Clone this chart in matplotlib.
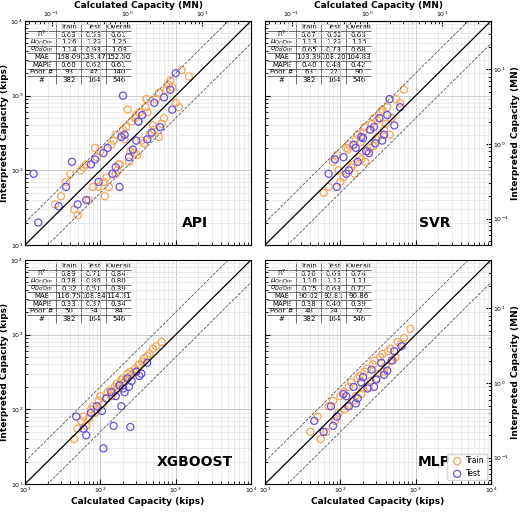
import matplotlib
matplotlib.use("Agg")
import matplotlib.pyplot as plt
import numpy as np

names = ["API", "SVR", "XGBOOST", "MLP"]
row_labels = ["R$^2$", r"$\mu_{Qc/Qm}$", r"$\sigma_{Qc/Qm}$", "MAE", "MAPE", "Poor #", "#"]
col_labels = ["Train", "Test", "Overall"]
tables = {
    "API": [["0.63", "0.53", "0.61"], ["1.26", "1.22", "1.25"], ["1.14", "0.93", "1.08"],
            ["158.09", "139.47", "152.50"], ["0.60", "0.62", "0.61"], ["93", "47", "140"], ["382", "164", "546"]],
    "SVR": [["0.67", "0.52", "0.63"], ["1.13", "1.22", "1.15"], ["0.65", "0.73", "0.68"],
            ["103.39", "108.20", "104.83"], ["0.40", "0.48", "0.42"], ["63", "27", "90"], ["382", "164", "546"]],
    "XGBOOST": [["0.89", "0.71", "0.84"], ["0.78", "0.86", "0.80"], ["0.32", "0.51", "0.39"],
                ["116.75", "108.84", "114.31"], ["0.33", "0.37", "0.34"], ["50", "34", "84"], ["382", "164", "546"]],
    "MLP": [["0.76", "0.69", "0.74"], ["1.10", "1.12", "1.11"], ["0.75", "0.63", "0.72"],
            ["90.02", "92.81", "90.86"], ["0.38", "0.40", "0.39"], ["48", "24", "72"], ["382", "164", "546"]],
}

train_x = {
    "API": [30,45,60,80,100,120,150,180,200,250,300,350,400,500,600,700,800,1000,1200,1500,40,70,90,110,140,170,220,280,330,450,550,650,900,1100,25,55,130,260,380,750,65,95,160,240,320,420,520,160,210,290,35,50,85,115,175,230,310,410,600,850],
    "SVR": [60,80,100,120,140,160,180,200,230,260,300,340,380,420,480,550,620,700,90,110,130,150,170,190,210,250,280,320,360,400,70,95,125,155,185,215,245,275,310,450],
    "XGBOOST": [45,55,65,75,85,95,110,125,140,155,170,190,210,230,260,290,330,380,450,550,650,50,60,70,80,90,100,120,135,150,165,180,200,220,250,280,320,360,420,500],
    "MLP": [40,55,70,85,100,115,130,150,170,190,210,240,270,300,340,380,430,500,580,700,850,50,65,80,95,110,125,140,160,180,200,225,255,285,320,360,400,460,540,640],
}
train_y = {
    "API": [45,30,110,60,180,80,250,120,350,180,550,250,700,400,1100,500,1400,800,2200,1800,90,40,150,70,220,100,380,170,600,300,900,420,1300,700,35,100,60,450,230,1200,120,60,300,130,450,600,350,90,260,500,70,25,200,45,120,650,160,900,280,1600],
    "SVR": [50,130,70,200,110,260,150,320,180,420,260,600,350,700,500,900,800,1200,160,80,220,120,300,140,380,200,500,280,650,420,60,100,190,90,240,130,350,210,470,300],
    "XGBOOST": [40,70,60,100,90,130,120,170,150,200,190,250,230,300,290,350,400,480,560,700,800,55,80,75,110,100,150,140,180,170,220,210,260,250,320,310,390,430,520,650],
    "MLP": [50,40,110,70,150,100,200,130,260,160,320,200,400,260,500,320,600,450,800,900,1200,80,50,130,90,170,110,230,150,280,190,350,240,450,300,550,380,650,500,750],
}
test_x = {
    "API": [15,35,50,75,95,125,160,210,240,320,420,520,620,850,1000,65,85,145,190,270,360,480,700,900,200,110,300,13,28,42,180],
    "SVR": [70,90,110,130,150,170,190,220,250,290,330,380,450,520,620,85,120,160,200,240,280,360,420],
    "XGBOOST": [48,60,75,90,105,120,140,160,180,200,230,260,300,350,420,110,65,150,210,250,190,330,240],
    "MLP": [45,60,75,90,110,130,150,170,200,230,260,300,350,420,520,650,80,120,160,190,280,380,480],
}
test_y = {
    "API": [20,60,35,120,70,200,110,300,150,450,260,800,380,1200,2000,40,140,90,280,190,550,320,950,650,1000,170,250,90,33,130,60],
    "SVR": [90,60,150,100,220,130,280,180,350,230,500,300,900,400,700,140,90,200,270,170,380,250,550],
    "XGBOOST": [80,55,90,110,95,140,170,150,210,190,260,240,320,300,420,30,45,60,170,58,110,280,200],
    "MLP": [70,50,110,80,160,110,200,140,270,190,340,250,420,330,600,700,60,150,120,230,200,290,450],
}

KIP2MN = 0.004448
train_c = "#f5a55a"
test_c = "#6a4fe0"

fig = plt.figure(figsize=(5.2, 5.13), dpi=100)
W, H = 520, 513
boxes = [(25, 21), (265, 21), (25, 260), (265, 260)]
pw, ph = 226, 224
lim = (10, 1e4)
line = np.array(lim)
fs_tick = 4.5
fs_lab = 6.5

for i, name in enumerate(names):
    x0, y0 = boxes[i]
    ax = fig.add_axes([x0 / W, 1 - (y0 + ph) / H, pw / W, ph / H])
    ax.set_xscale("log"); ax.set_yscale("log")
    ax.set_xlim(lim); ax.set_ylim(lim)
    ax.grid(True, which="major", color="#cccccc", lw=0.7)
    ax.grid(True, which="minor", color="#e3e3e3", lw=0.5)
    ax.set_axisbelow(True)
    ax.plot(line, line, color="black", lw=0.9)
    ax.plot(line, line * 2, color="#555555", lw=0.6, ls="--")
    ax.plot(line, line / 2, color="#555555", lw=0.6, ls="--")
    ax.scatter(train_x[name], train_y[name], s=26, facecolors="none", edgecolors=train_c, lw=0.9, label="Train")
    ax.scatter(test_x[name], test_y[name], s=26, facecolors="none", edgecolors=test_c, lw=0.9, label="Test")
    ax.text(0.75, 0.1, name, transform=ax.transAxes, ha="center", va="center", fontsize=10, fontweight="bold")
    ax.tick_params(which="both", direction="in", labelsize=fs_tick, pad=1.5)
    if i % 2 == 0:
        ax.set_ylabel("Interpreted Capacity (kips)", fontsize=fs_lab, fontweight="bold", labelpad=1)
    else:
        ax.tick_params(which="both", labelleft=False)
        sec = ax.secondary_yaxis("right", functions=(lambda v: v * KIP2MN, lambda v: v / KIP2MN))
        sec.tick_params(labelsize=fs_tick, direction="in", which="both", pad=1.5)
        sec.set_ylabel("Interpreted Capacity (MN)", fontsize=fs_lab, fontweight="bold", labelpad=1)
    if i < 2:
        ax.tick_params(which="both", labelbottom=False)
        sec = ax.secondary_xaxis("top", functions=(lambda v: v * KIP2MN, lambda v: v / KIP2MN))
        sec.tick_params(labelsize=fs_tick, direction="in", which="both", pad=1.5)
        sec.set_xlabel("Calculated Capacity (MN)", fontsize=fs_lab, fontweight="bold", labelpad=1)
    else:
        ax.set_xlabel("Calculated Capacity (kips)", fontsize=fs_lab, fontweight="bold", labelpad=1)
    cells = [["", *col_labels]] + [[rl, *vals] for rl, vals in zip(row_labels, tables[name])]
    tb = ax.table(cellText=cells, bbox=[0.01, 0.72, 0.46, 0.27], cellLoc="center",
                  colWidths=[0.28, 0.24, 0.24, 0.24])
    tb.auto_set_font_size(False)
    tb.set_fontsize(5.0)
    for (r, c), cell in tb.get_celld().items():
        cell.set_linewidth(0.4)
        cell.set_facecolor("white")
        cell.PAD = 0.02
        edges = ""
        if r > 0:
            edges += "T"
        if c > 0:
            edges += "L"
        cell.visible_edges = edges if edges else "open"
    if i == 3:
        ax.legend(loc="lower right", fontsize=5.5, frameon=True, handletextpad=0.2, borderpad=0.3)

fig.savefig("out.png", dpi=100)
